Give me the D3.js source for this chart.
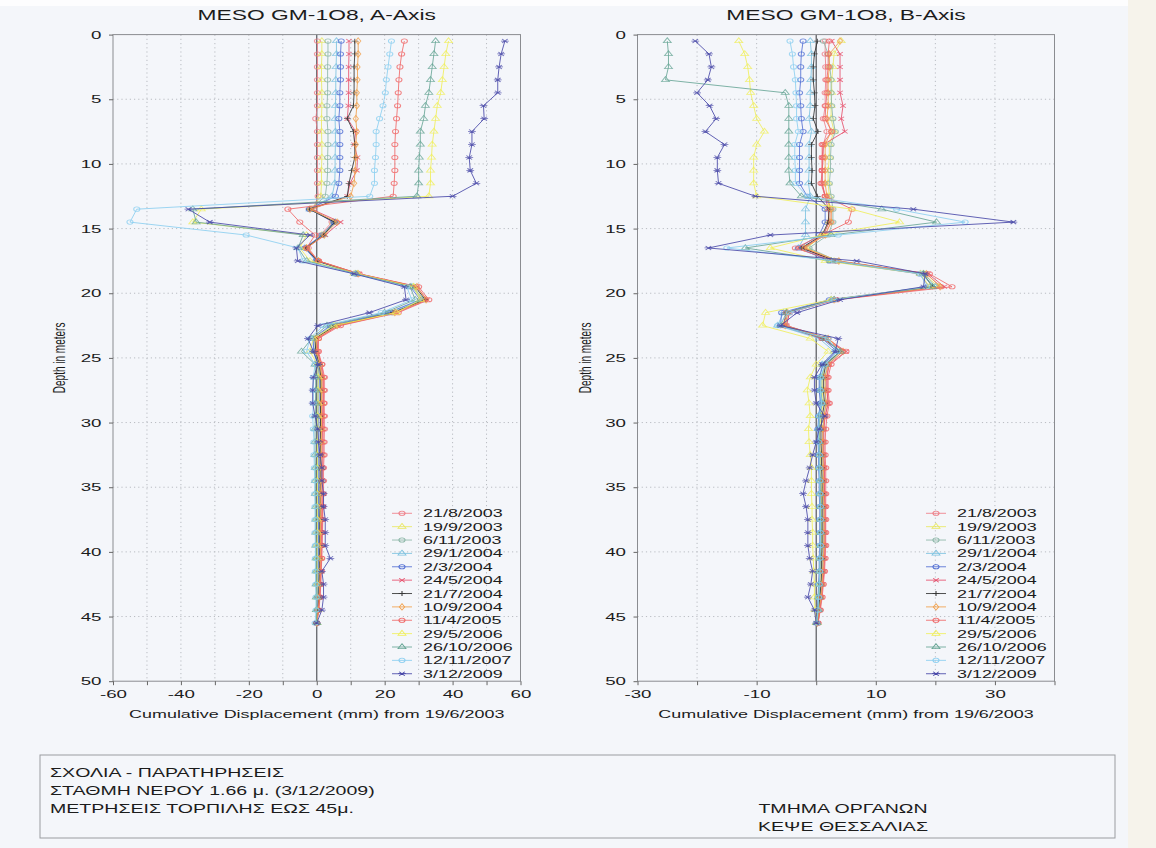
<!DOCTYPE html>
<html lang="en">
<head>
<meta charset="utf-8">
<title>MESO GM-1O8</title>
<style>
  body { margin: 0; background: #f4f6fa; }
  svg { display: block; }
  text { font-family: "Liberation Sans", Arial, sans-serif; fill: #1c1c1c; }
</style>
</head>
<body>
<svg id="chart"></svg>
<script src="https://cdn.jsdelivr.net/npm/d3@7"></script>
<script>
// depth of each reading (m)
var depths = [0.5,1.5,2.5,3.5,4.5,5.5,6.5,7.5,8.5,9.5,10.5,11.5,12.5,13.5,14.5,15.5,16.5,17.5,18.5,19.5,20.5,21.5,22.5,23.5,24.5,25.5,
              26.5,27.5,28.5,29.5,30.5,31.5,32.5,33.5,34.5,35.5,36.5,37.5,38.5,39.5,40.5,41.5,42.5,43.5,44.5,45.5];

var dates = ["21/8/2003","19/9/2003","6/11/2003","29/1/2004","2/3/2004","24/5/2004","21/7/2004",
             "10/9/2004","11/4/2005","29/5/2006","26/10/2006","12/11/2007","3/12/2009"];
var colors = ["#ee7f88","#e9e864","#8db7a8","#7dc2e0","#5370d4","#e6506c","#333333",
              "#f1a04c","#f06868","#f0ef5c","#68a696","#8ccff0","#4848a8"];
var markers = ["circle","triangle","circle","triangle","circle","times","plus",
               "diamond","circle","triangle","triangle","circle","star"];

var depthTicks = [0,5,10,15,20,25,30,35,40,45,50];
var aTicks = [-60,-50,-40,-30,-20,-10,0,10,20,30,40,50,60];
var aLabels = [-60,-40,-20,0,20,40,60];
var bTicks = [-30,-20,-10,0,10,20,30,40];
var bLabels = [-30,-10,10,30];

// A-Axis cumulative displacement (mm)
var a_21_8_2003 = [0.2,0.2,0.2,0.2,0.2,0.2,-0.3,0.2,0.2,0.2,0.2,0.2,0.4, -1.0,4.5,1.0,-2.5,0.5,11.5,28.0,31.5,22.5,6.0,0.5,0.2,1.5, 2.3,2.3,2.2,2.3,2.3,2.2,2.2,2.0,2.0,2.0,1.8,1.8,1.7,1.6,1.5,1.3,1.2,1.0,0.6,0.0];
var a_19_9_2003 = [1.5,1.5,1.4,1.4,1.5,1.5,1.4,1.4,1.5,1.5,1.4,1.4,1.2, -1.5,5.0,1.5,-3.0,0.5,11.0,28.5,31.0,23.0,5.5,0.0,-0.5,0.8, 1.5,1.4,1.4,1.3,1.3,1.3,1.2,1.2,1.2,1.1,1.1,1.0,1.0,1.0,0.9,0.8,0.7,0.6,0.4,0.0];
var a_6_11_2003 = [3.3,3.3,3.2,3.2,3.2,3.0,3.0,3.3,3.3,3.2,3.2,3.0,2.5, -1.8,5.2,1.8,-3.2,0.2,11.8,28.2,31.8,22.0,5.0,-0.5,-0.5,0.6, 1.2,1.2,1.1,1.1,1.0,1.0,1.0,1.0,1.0,0.9,0.9,0.9,0.8,0.8,0.8,0.7,0.6,0.5,0.3,0.0];
var a_29_1_2004 = [5.8,5.8,5.7,5.6,5.6,5.5,5.4,5.5,5.5,5.4,5.4,5.3,4.5, -2.0,5.5,2.0,-3.5,0.0,12.0,28.0,31.0,21.5,4.5,-1.0,-1.0,0.2, 0.5,0.4,0.4,0.3,0.2,0.2,0.2,0.3,0.3,0.3,0.3,0.3,0.3,0.3,0.3,0.3,0.2,0.2,0.1,0.0];
var a_2_3_2004 = [7.2,7.0,7.0,7.0,6.8,6.8,6.5,6.8,6.8,6.8,6.8,6.5,5.5, -2.2,5.0,1.5,-3.5,-0.2,11.5,27.5,30.5,21.0,4.0,-1.2,-0.8,0.3, 0.8,0.7,0.7,0.6,0.6,0.6,0.6,0.6,0.6,0.5,0.5,0.5,0.5,0.5,0.5,0.4,0.4,0.3,0.2,0.0];
var a_24_5_2004 = [9.5,9.5,9.4,9.4,9.4,9.3,9.0,11.5,11.0,12.0,11.8,9.8,9.0, -1.5,7.0,2.5,-3.0,0.5,12.5,29.5,32.5,23.5,6.5,0.0,0.2,1.2, 1.8,1.8,1.8,1.7,1.7,1.6,1.6,1.6,1.5,1.5,1.5,1.4,1.4,1.3,1.2,1.1,1.0,0.8,0.5,0.0];
var a_21_7_2004 = [11.2,11.2,11.0,11.0,11.0,10.8,9.0,10.8,11.2,11.2,10.3,9.5,9.0, -2.2,5.3,2.0,-3.2,0.2,12.0,29.0,32.0,22.5,5.5,-0.5,-0.3,0.8, 1.2,1.2,1.1,1.1,1.1,1.1,1.0,1.0,1.0,1.0,1.0,0.9,0.9,0.9,0.8,0.8,0.7,0.6,0.4,0.0];
var a_10_9_2004 = [12.2,12.2,12.0,12.0,11.8,11.8,11.5,11.8,11.5,11.5,11.3,11.0,10.0, -2.0,6.0,2.2,-3.0,0.5,12.2,29.5,32.2,23.0,6.0,-0.2,0.0,1.0, 1.5,1.5,1.4,1.4,1.4,1.3,1.3,1.3,1.3,1.2,1.2,1.2,1.1,1.1,1.0,1.0,0.9,0.7,0.5,0.0];
var a_11_4_2005 = [25.8,25.0,24.5,24.2,24.0,23.8,23.5,23.2,23.0,23.0,23.0,22.8,22.5, -8.5,-5.0,-0.5,-3.0,0.5,12.5,30.0,33.0,24.0,7.0,0.5,0.5,1.5, 2.0,2.0,2.0,2.0,1.9,1.9,1.9,1.8,1.8,1.8,1.7,1.7,1.6,1.5,1.4,1.3,1.1,0.9,0.5,0.0];
var a_29_5_2006 = [38.8,38.0,37.5,37.0,36.5,35.5,35.0,34.5,34.0,33.8,33.5,33.5,33.0, -34.0,-36.5,-3.0,-5.0,-2.0,12.0,28.5,30.5,23.5,5.0,-1.0,-2.0,0.2, 0.5,0.4,0.4,0.3,0.3,0.2,0.2,0.2,0.2,0.2,0.2,0.2,0.2,0.1,0.1,0.1,0.1,0.0,0.0,0.0];
var a_26_10_2006 = [35.0,34.5,34.0,33.5,33.0,32.0,31.5,30.5,30.5,30.2,30.0,30.0,29.5, -36.5,-35.5,-4.0,-5.5,-3.0,11.5,27.5,29.0,20.0,3.0,-1.5,-4.5,-0.5, -0.3,-0.3,-0.4,-0.4,-0.5,-0.5,-0.5,-0.4,-0.4,-0.4,-0.3,-0.3,-0.3,-0.3,-0.2,-0.2,-0.2,-0.1,-0.1,0.0];
var a_12_11_2007 = [22.0,21.5,21.0,20.5,20.2,19.5,18.5,17.5,17.5,17.3,17.0,17.0,15.6, -53.0,-55.0,-20.8,-5.5,-4.0,11.0,26.5,28.0,19.0,2.0,-2.0,-3.0,-0.5, -1.0,-1.0,-1.0,-1.2,-1.0,-0.8,-0.8,-0.7,-0.6,-0.6,-0.5,-0.5,-0.5,-0.4,-0.4,-0.4,-0.3,-0.2,-0.2,-0.5];
var a_3_12_2009 = [55.4,54.3,53.7,53.3,53.3,49.1,49.3,45.7,45.7,44.9,45.2,47.0,40.0, -37.8,-31.5,-2.0,-6.0,-5.6,11.0,25.8,26.3,15.5,0.3,-2.6,-1.0,0.5, -1.0,-1.2,-1.2,-0.5,0.3,0.5,1.0,1.5,1.5,2.0,2.0,2.5,2.5,2.5,4.0,1.5,2.0,2.0,1.5,0.0];

// B-Axis cumulative displacement (mm)
var b_21_8_2003 = [1.5,1.5,1.6,1.6,1.5,1.5,1.2,1.8,1.2,1.2,1.0,1.0,1.5, 2.5,2.5,1.5,-2.0,3.5,18.5,21.0,3.0,-4.5,-5.0,2.0,4.5,2.0, 1.8,1.8,2.0,1.5,1.2,1.2,1.2,1.3,1.3,1.4,1.4,1.4,1.4,1.4,1.3,1.2,1.0,0.8,0.6,0.3];
var b_19_9_2003 = [4.2,3.0,2.8,2.6,2.6,2.5,2.5,3.0,2.2,2.2,2.0,2.0,2.2, 2.0,2.2,1.0,-1.5,3.0,18.0,20.5,2.5,-5.0,-5.5,1.5,4.0,1.5, 1.0,1.0,1.2,0.8,0.6,0.6,0.7,0.8,0.8,0.9,0.9,0.9,0.9,0.9,0.8,0.7,0.6,0.5,0.3,0.2];
var b_6_11_2003 = [1.2,2.0,2.3,2.5,2.5,2.6,2.8,3.2,2.5,2.4,2.4,2.2,2.5, 2.8,2.8,2.0,-1.2,3.5,18.2,20.0,2.8,-4.8,-5.2,1.5,4.2,1.8, 1.5,1.5,1.6,1.3,1.1,1.1,1.1,1.1,1.2,1.2,1.2,1.2,1.2,1.2,1.1,1.0,0.9,0.7,0.5,0.2];
var b_29_1_2004 = [-1.0,-0.8,-0.8,-0.9,-1.0,-1.0,-1.2,-0.8,-1.2,-1.2,-1.2,-1.3,-1.0, -1.8,-1.8,-1.8,-3.0,2.5,17.5,20.0,2.5,-5.5,-6.5,0.5,3.0,1.0, 0.6,0.6,0.8,0.4,0.3,0.4,0.5,0.5,0.6,0.6,0.7,0.7,0.7,0.7,0.6,0.6,0.5,0.4,0.3,0.1];
var b_2_3_2004 = [-2.2,-2.5,-2.6,-2.6,-2.8,-2.6,-2.5,-2.2,-2.8,-2.8,-2.8,-2.8,-1.5, 1.5,1.5,0.5,-3.0,2.2,17.3,19.0,2.2,-5.8,-6.0,1.0,3.5,1.2, 0.5,0.5,0.7,0.4,0.3,0.3,0.4,0.4,0.5,0.5,0.6,0.6,0.6,0.6,0.5,0.5,0.4,0.3,0.2,0.1];
var b_24_5_2004 = [2.6,4.0,4.0,4.0,4.0,4.5,4.2,4.8,1.2,1.0,1.0,1.0,1.5, 2.0,2.2,1.2,-2.2,3.0,18.8,21.5,3.2,-4.5,-5.0,1.8,5.0,2.2, 1.8,1.8,2.0,1.5,1.3,1.3,1.3,1.4,1.4,1.4,1.5,1.5,1.5,1.5,1.4,1.3,1.1,0.9,0.6,0.3];
var b_21_7_2004 = [0.2,-0.3,-0.5,-0.5,-0.3,-0.2,-0.5,0.3,-0.8,-0.8,-0.7,-0.8,0.2, 2.2,2.0,1.0,-2.5,3.2,18.0,19.5,2.8,-5.0,-5.5,1.2,4.0,1.6, 1.2,1.2,1.4,1.0,0.8,0.8,0.9,0.9,1.0,1.0,1.0,1.0,1.0,1.0,0.9,0.9,0.8,0.6,0.4,0.2];
var b_10_9_2004 = [4.0,2.2,2.2,2.0,2.0,2.0,1.8,2.5,1.5,1.5,1.5,1.5,1.8, 2.5,2.5,1.5,-2.0,3.8,18.5,20.8,3.0,-4.8,-5.2,2.0,4.5,2.0, 1.5,1.5,1.7,1.3,1.1,1.1,1.1,1.2,1.2,1.2,1.3,1.3,1.3,1.3,1.2,1.1,1.0,0.8,0.5,0.2];
var b_11_4_2005 = [2.2,2.0,2.0,1.8,1.8,1.6,1.5,2.6,1.0,1.0,1.0,0.8,1.5, 6.0,5.4,1.0,-3.5,3.0,19.0,22.8,3.5,-5.0,-5.5,1.0,5.0,2.5, 2.0,2.0,2.2,1.8,1.6,1.5,1.5,1.6,1.6,1.6,1.6,1.6,1.6,1.6,1.5,1.4,1.2,1.0,0.7,0.3];
var b_29_5_2006 = [-13.0,-12.0,-11.5,-11.2,-11.0,-10.5,-10.0,-8.7,-10.0,-10.5,-10.5,-10.5,-10.0, 6.0,14.0,1.0,-7.7,1.5,17.5,19.0,2.5,-8.5,-9.0,-1.0,2.0,0.0, -1.0,-1.5,-1.2,-1.0,-1.3,-1.2,-1.0,-0.8,-0.8,-0.8,-0.7,-0.7,-0.6,-0.6,-0.5,-0.4,-0.3,-0.3,-0.2,0.0];
var b_26_10_2006 = [-25.0,-24.8,-24.8,-25.3,-5.2,-4.6,-4.6,-4.6,-4.6,-4.6,-4.6,-4.4,-2.5, 11.0,20.2,2.5,-11.9,2.5,18.0,19.5,3.0,-5.0,-6.0,1.5,4.0,1.5, 0.8,0.8,1.0,0.6,0.5,0.5,0.6,0.6,0.7,0.7,0.8,0.8,0.8,0.8,0.7,0.6,0.5,0.4,0.3,0.1];
var b_12_11_2007 = [-4.4,-4.0,-3.8,-3.5,-3.4,-3.3,-3.3,-3.0,-3.6,-3.6,-3.5,-3.5,-1.5, 13.5,25.0,3.7,-15.0,3.0,17.5,18.5,3.0,-4.5,-6.5,2.0,3.5,1.5, 0.7,0.7,0.9,0.5,0.4,0.4,0.5,0.5,0.6,0.6,0.7,0.7,0.7,0.7,0.6,0.6,0.5,0.4,0.3,0.1];
var b_3_12_2009 = [-20.3,-18.0,-17.6,-18.2,-20.0,-17.9,-16.8,-18.6,-15.4,-16.6,-16.6,-16.4,-10.2, 16.3,33.1,-7.7,-18.1,6.8,18.3,18.0,4.0,-3.2,-6.0,3.7,3.2,1.0, -0.3,-0.3,0.0,1.4,0.5,0.0,-0.6,-1.1,-1.7,-2.2,-1.7,-1.4,-1.4,-1.4,-1.1,-0.6,-0.9,-1.4,-0.3,0.0];

var seriesA = [a_21_8_2003,a_19_9_2003,a_6_11_2003,a_29_1_2004,a_2_3_2004,a_24_5_2004,a_21_7_2004,
               a_10_9_2004,a_11_4_2005,a_29_5_2006,a_26_10_2006,a_12_11_2007,a_3_12_2009];
var seriesB = [b_21_8_2003,b_19_9_2003,b_6_11_2003,b_29_1_2004,b_2_3_2004,b_24_5_2004,b_21_7_2004,
               b_10_9_2004,b_11_4_2005,b_29_5_2006,b_26_10_2006,b_12_11_2007,b_3_12_2009];

var notesLeft = ["ΣΧΟΛΙΑ - ΠΑΡΑΤΗΡΗΣΕΙΣ", "ΣΤΑΘΜΗ ΝΕΡΟΥ 1.66 μ. (3/12/2009)", "ΜΕΤΡΗΣΕΙΣ ΤΟΡΠΙΛΗΣ ΕΩΣ 45μ."];
var notesRight = ["ΤΜΗΜΑ  ΟΡΓΑΝΩΝ", "ΚΕΨΕ  ΘΕΣΣΑΛΙΑΣ"];

var width = 1156, height = 848;
var K = 1.63; // the scan is stretched sideways

var svg = d3.select("#chart").attr("width", width).attr("height", height);
svg.append("rect").attr("width", width).attr("height", height).attr("fill", "#f4f6fa");
svg.append("rect").attr("width", width).attr("height", 6).attr("fill", "#fdfdfe");
svg.append("rect").attr("x", 1128).attr("width", 28).attr("height", height).attr("fill", "#f6f3eb");

var y = d3.scaleLinear().domain([0, 50]).range([34.6, 681.2]);

function stretch(x, yy) { return "translate(" + x + "," + yy + ") scale(" + K + ",1)"; }

function markerPath(kind) {
  if (kind == "circle") return d3.symbol().type(d3.symbolCircle).size(15)();
  if (kind == "triangle") return d3.symbol().type(d3.symbolTriangle).size(14)();
  if (kind == "diamond") return d3.symbol().type(d3.symbolDiamond).size(12)();
  if (kind == "plus") return "M-2.4,0H2.4M0,-2.4V2.4";
  if (kind == "times") return "M-2,-2L2,2M-2,2L2,-2";
  return "M-2,-2L2,2M-2,2L2,-2M-2.8,0H2.8";
}

function panel(x, series, ticks, labels, title, yLabelX, legendX) {
  var g = svg.append("g");
  var x0 = x.range()[0], x1 = x.range()[1];

  // dotted grid
  g.selectAll(".vgrid").data(ticks.filter(function(t){ return t != 0 && t != x.domain()[0] && t != x.domain()[1]; }))
    .enter().append("line")
    .attr("x1", function(d){ return x(d); }).attr("x2", function(d){ return x(d); })
    .attr("y1", y(0)).attr("y2", y(50))
    .attr("stroke", "#b9bcc2").attr("stroke-width", 1).attr("stroke-dasharray", "1.2,3");
  g.selectAll(".hgrid").data(depthTicks.slice(1, -1))
    .enter().append("line")
    .attr("x1", x0).attr("x2", x1)
    .attr("y1", function(d){ return y(d); }).attr("y2", function(d){ return y(d); })
    .attr("stroke", "#b9bcc2").attr("stroke-width", 1).attr("stroke-dasharray", "1.2,3");

  // zero line
  g.append("line").attr("x1", x(0)).attr("x2", x(0)).attr("y1", y(0)).attr("y2", y(50))
    .attr("stroke", "#55575c").attr("stroke-width", 1.2);

  var line = d3.line()
    .x(function(d){ return x(d); })
    .y(function(d, i){ return y(depths[i]); });

  series.forEach(function(vals, s) {
    g.append("path").datum(vals)
      .attr("d", line)
      .attr("fill", "none")
      .attr("stroke", colors[s])
      .attr("stroke-width", 1)
      .attr("stroke-opacity", 0.85);
    g.selectAll(".m" + s).data(vals).enter().append("path")
      .attr("d", markerPath(markers[s]))
      .attr("transform", function(d, i){ return "translate(" + x(d) + "," + y(depths[i]) + ") scale(1.4,1)"; })
      .attr("fill", "none")
      .attr("stroke", colors[s])
      .attr("stroke-opacity", 0.8)
      .attr("stroke-width", 0.75);
  });

  // frame
  g.append("rect").attr("x", x0).attr("y", y(0)).attr("width", x1 - x0).attr("height", y(50) - y(0))
    .attr("fill", "none").attr("stroke", "#8a8c90").attr("stroke-width", 1);

  // axes
  var xa = g.append("g").attr("transform", "translate(0," + y(50) + ")")
    .call(d3.axisBottom(x).tickValues(ticks).tickSize(4).tickPadding(5)
      .tickFormat(function(d){ return labels.indexOf(d) >= 0 ? d : ""; }));
  var ya = g.append("g").attr("transform", "translate(" + x0 + ",0)")
    .call(d3.axisLeft(y).tickValues(depthTicks).tickSize(4).tickPadding(5));
  [xa, ya].forEach(function(a) {
    a.select(".domain").remove();
    a.selectAll(".tick line").attr("stroke", "#666");
    a.selectAll(".tick text").attr("font-size", 11.5).attr("font-family", "Liberation Sans, Arial, sans-serif")
      .attr("fill", "#1c1c1c");
  });
  xa.selectAll(".tick text").attr("transform", "scale(" + K + ",1)");
  ya.selectAll(".tick text").attr("transform", "scale(" + K + ",1)").attr("x", -11.5 / K);

  // titles
  var cx = (x0 + x1) / 2;
  g.append("text").attr("transform", stretch(cx, 20)).attr("text-anchor", "middle")
    .attr("font-size", 14).text(title);
  g.append("text").attr("transform", stretch(cx, 718)).attr("text-anchor", "middle")
    .attr("font-size", 11).text("Cumulative Displacement (mm) from 19/6/2003");
  g.append("text")
    .attr("transform", "translate(" + yLabelX + "," + (y(0) + y(50)) / 2 + ") scale(" + K + ",1) rotate(-90)")
    .attr("text-anchor", "middle").attr("font-size", 10).text("Depth in meters");

  // legend
  var leg = g.selectAll(".leg").data(dates).enter().append("g")
    .attr("transform", function(d, i){ return "translate(" + legendX + "," + (513.3 + i * 13.37) + ")"; });
  leg.append("line").attr("x1", -10).attr("x2", 10)
    .attr("stroke", function(d, i){ return colors[i]; }).attr("stroke-opacity", 0.85).attr("stroke-width", 1);
  leg.append("path").attr("d", function(d, i){ return markerPath(markers[i]); })
    .attr("transform", "scale(1.4,1)")
    .attr("fill", "none").attr("stroke", function(d, i){ return colors[i]; }).attr("stroke-width", 0.75);
  leg.append("text").attr("transform", "translate(21,4) scale(" + K + ",1)")
    .attr("font-size", 11).text(function(d){ return d; });
}

var xA = d3.scaleLinear().domain([-60, 60]).range([113, 520.5]);
var xB = d3.scaleLinear().domain([-30, 40]).range([637.5, 1054.5]);

panel(xA, seriesA, aTicks, aLabels, "MESO GM-1O8, A-Axis", 65, 402);
panel(xB, seriesB, bTicks, bLabels, "MESO GM-1O8, B-Axis", 591, 936);

// notes box
svg.append("rect").attr("x", 40).attr("y", 755).attr("width", 1075).attr("height", 83)
  .attr("fill", "none").attr("stroke", "#9a9ca0").attr("stroke-width", 1);
svg.selectAll(".noteL").data(notesLeft).enter().append("text")
  .attr("transform", function(d, i){ return stretch(50, 776.5 + i * 18); })
  .attr("font-size", 12).text(function(d){ return d; });
svg.selectAll(".noteR").data(notesRight).enter().append("text")
  .attr("transform", function(d, i){ return stretch(843, 812.5 + i * 18); })
  .attr("text-anchor", "middle")
  .attr("font-size", 12).text(function(d){ return d; });
</script>
</body>
</html>
